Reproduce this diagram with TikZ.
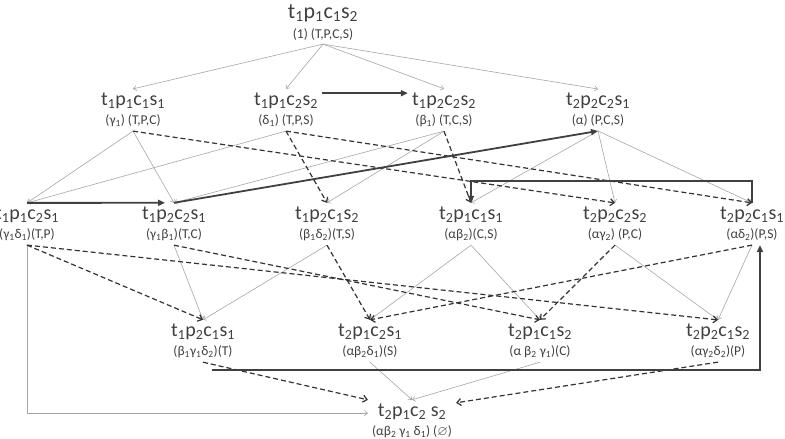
\documentclass[tikz,border=0pt]{standalone}
\usepackage{fontspec}
\setmainfont{Carlito}
\usepackage{amssymb}
\usepackage{tikz}
\usetikzlibrary{arrows.meta}

\newcommand{\tpcs}[4]{t\textsubscript{#1}p\textsubscript{#2}c\textsubscript{#3}s\textsubscript{#4}}
\newcommand{\ix}[1]{\textsubscript{#1}}
\newcommand{\attr}[1]{{\fontsize{13.5}{19}\selectfont #1}}

\begin{document}
\begin{tikzpicture}[x=1pt,y=-1pt,
    cell/.style={align=center,inner sep=4pt,text=black!75,font=\fontsize{20}{19}\selectfont},
    faint/.style={draw=black!35,line width=0.6pt,-{Straight Barb[length=3pt,width=5pt]}},
    broken/.style={draw=black!80,line width=1.2pt,dash pattern=on 5pt off 3pt,-{Straight Barb[length=4pt,width=7pt]}},
    strong/.style={draw=black!75,line width=1.8pt,-{Triangle[length=7pt,width=6pt]}}]
    \useasboundingbox (0,0) rectangle (785,439);

    \node[cell,font=\fontsize{22}{20}\selectfont] (n1112) at (323,22) {\tpcs1112\\\attr{(1) (T,P,C,S)}};

    \node[cell] (n1111) at (133,110) {\tpcs1111\\\attr{(γ\ix1) (T,P,C)}};
    \node[cell] (n1122) at (286,110) {\tpcs1122\\\attr{(δ\ix1) (T,P,S)}};
    \node[cell] (n1222) at (444,110) {\tpcs1222\\\attr{(β\ix1) (T,C,S)}};
    \node[cell] (n2221) at (598,110) {\tpcs2221\\\attr{(α) (P,C,S)}};

    \node[cell] (n1121) at (27,224) {\tpcs1121\\\attr{(γ\ix1δ\ix1)(T,P)}};
    \node[cell] (n1221) at (174,224) {\tpcs1221\\\attr{(γ\ix1β\ix1)(T,C)}};
    \node[cell] (n1212) at (327,224) {\tpcs1212\\\attr{(β\ix1δ\ix2)(T,S)}};
    \node[cell] (n2111) at (471,224) {\tpcs2111\\\attr{(αβ\ix2)(C,S)}};
    \node[cell] (n2222) at (615,224) {\tpcs2222\\\attr{(αγ\ix2) (P,C)}};
    \node[cell] (n2211) at (752,224) {\tpcs2211\\\attr{(αδ\ix2)(P,S)}};

    \node[cell] (n1211) at (203,341) {\tpcs1211\\\attr{(β\ix1γ\ix1δ\ix2)(T)}};
    \node[cell] (n2121) at (370,341) {\tpcs2121\\\attr{(αβ\ix2δ\ix1)(S)}};
    \node[cell] (n2112) at (540,341) {\tpcs2112\\\attr{(α β\ix2 γ\ix1)(C)}};
    \node[cell] (n2212) at (718,341) {\tpcs2212\\\attr{(αγ\ix2δ\ix2)(P)}};

    \node[cell] (n2122) at (412,421) {t\ix2p\ix1c\ix2 s\ix2\\\attr{(αβ\ix2 γ\ix1 δ\ix1) ($\varnothing$)}};

    \foreach \a/\b in {n1112/n1111,n1112/n1122,n1112/n1222,n1112/n2221,
        n1111/n1121,n1111/n1221,n1122/n1121,n1222/n1221,n1222/n1212,
        n2221/n2111,n2221/n2222,n2221/n2211,
        n1221/n1211,n1212/n1211,n2111/n2121,n2111/n2112,n2222/n2212,n2211/n2212,
        n2121/n2122,n2112/n2122}
        \draw[faint] (\a.south) -- (\b.north);
    \draw[faint] (n1121.south) |- (n2122.170);

    \foreach \a/\b in {n1111/n2222,n1122/n1212,n1122/n2211,n1222/n2111,
        n1121/n1211,n1121/n2212,n1221/n2112,n1212/n2121,n2222/n2112,n2211/n2121}
        \draw[broken] (\a.south) -- (\b.north);
    \draw[broken] (n1211.south) -- (n2122.north west);
    \draw[broken] (n2212.south) -- ([yshift=-3pt]n2122.north east);

    \draw[strong] (n1122.25) -- (n1222.155);
    \draw[strong] (n1121.north) -- ([xshift=-9pt]n1221.north);
    \draw[strong] (n1221.north) -- (n2221.south);
    \draw[strong] (n2211.north) -- ++(0,-22) -| (n2111.north);
    \draw[strong] ([xshift=9pt,yshift=-8pt]n1211.south) -| ([xshift=8pt]n2211.south);
\end{tikzpicture}
\end{document}
